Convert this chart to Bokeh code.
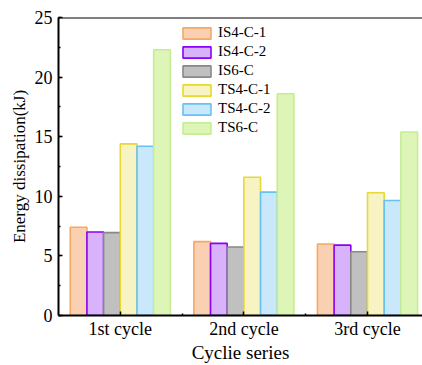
from bokeh.plotting import figure
from bokeh.models import ColumnDataSource, Range1d, FixedTicker, SingleIntervalTicker, Span
from bokeh.transform import dodge
from bokeh.embed import file_html
from bokeh.resources import INLINE

cycles = ["1st cycle", "2nd cycle", "3rd cycle"]
series = ["IS4-C-1", "IS4-C-2", "IS6-C", "TS4-C-1", "TS4-C-2", "TS6-C"]
IS4_C_1 = [7.4, 6.2, 6.0]
IS4_C_2 = [7.0, 6.05, 5.9]
IS6_C = [6.95, 5.75, 5.35]
TS4_C_1 = [14.4, 11.6, 10.3]
TS4_C_2 = [14.2, 10.35, 9.65]
TS6_C = [22.3, 18.6, 15.4]

fills = ["#f9d0b1", "#d8b2fa", "#c0c0c0", "#f7f3c2", "#c9e8fc", "#ddf5b6"]
lines = ["#f7a862", "#8a00f5", "#888888", "#e6d835", "#66c2f2", "#c6ed94"]

xpos = [i + 0.5 for i in range(len(cycles))]
source = ColumnDataSource(dict(x=xpos, s0=IS4_C_1, s1=IS4_C_2, s2=IS6_C,
                               s3=TS4_C_1, s4=TS4_C_2, s5=TS6_C))

FONT = "Liberation Serif"
p = figure(width=422, height=365, output_backend="svg", toolbar_location=None,
           x_range=Range1d(0, 2.945), y_range=Range1d(0, 25),
           min_border_left=58, min_border_right=0, min_border_top=17, min_border_bottom=49)

bw = 0.135
for i, name in enumerate(series):
    p.vbar(x=dodge("x", (i - 2.5) * bw), top="s%d" % i, width=bw, source=source,
           fill_color=fills[i], line_color=lines[i], line_width=1.6,
           legend_label=name)

p.xgrid.visible = False
p.ygrid.visible = False
p.outline_line_color = None
p.add_layout(Span(location=25, dimension="width", line_color="black", line_width=2))

xa = p.xaxis[0]
xa.ticker = FixedTicker(ticks=xpos, minor_ticks=[1.0, 2.0])
xa.major_label_overrides = {x: c for x, c in zip(xpos, cycles)}
xa.axis_label = "Cyclie series"
xa.axis_label_text_font_size = "19px"
xa.major_label_standoff = 3
xa.axis_label_standoff = 0

ya = p.yaxis[0]
ya.ticker = SingleIntervalTicker(interval=5, num_minor_ticks=2)
ya.axis_label = "Energy dissipation(kJ)"
ya.axis_label_text_font_size = "17px"
ya.major_label_standoff = 6
ya.axis_label_standoff = 3

for ax in (xa, ya):
    ax.axis_line_width = 2
    ax.axis_line_color = "black"
    ax.major_tick_in = 4
    ax.major_tick_out = 0
    ax.minor_tick_in = 2
    ax.minor_tick_out = 0
    ax.major_tick_line_width = 1.5
    ax.minor_tick_line_width = 1.5
    ax.major_label_text_font = FONT
    ax.major_label_text_font_size = "18px"
    ax.major_label_text_color = "black"
    ax.axis_label_text_font = FONT
    ax.axis_label_text_font_style = "normal"
    ax.axis_label_text_color = "black"

lg = p.legend[0]
lg.location = (121, 179)
lg.glyph_width = 35
lg.glyph_height = 14
lg.label_height = 14
lg.label_standoff = 4
lg.spacing = 2
lg.padding = 0
lg.margin = 0
lg.border_line_color = None
lg.background_fill_alpha = 0
lg.label_text_font = FONT
lg.label_text_font_size = "15px"
lg.label_text_color = "black"

open("out.html", "w").write(file_html(p, INLINE))
